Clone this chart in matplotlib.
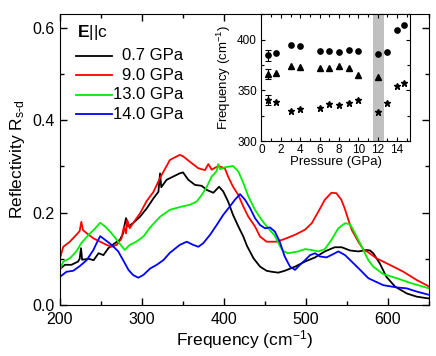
import matplotlib
matplotlib.use("Agg")
import matplotlib.pyplot as plt
from matplotlib.ticker import MultipleLocator, FormatStrFormatter

plt.rcParams['font.family'] = ['Liberation Sans', 'DejaVu Sans']
plt.rcParams['mathtext.fontset'] = 'custom'
plt.rcParams['mathtext.rm'] = 'Liberation Sans'
plt.rcParams['mathtext.bf'] = 'Liberation Sans:bold'
plt.rcParams['mathtext.it'] = 'Liberation Sans:italic'

# ---------------- main spectra ----------------
black_f = [200, 206, 214, 222, 224, 225.6, 227, 235, 241, 247, 253, 259, 267, 273, 277, 279, 280.5, 283, 289, 297.5,
           305.7, 314, 320, 322, 323.5, 330, 338, 346, 350, 356.5, 364.6, 372.8, 379, 387, 394, 399, 405, 411, 417.5,
           423.6, 428, 436, 444, 452, 458, 466, 474, 486.6, 498.8, 511, 523, 535, 543.5, 553.7, 563.8, 574, 578, 582,
           590, 598, 608.5, 622.8, 635, 650]
black_r = [0.078, 0.087, 0.087, 0.094, 0.100, 0.123, 0.098, 0.100, 0.097, 0.112, 0.108, 0.123, 0.134, 0.141, 0.155, 0.175,
           0.188, 0.170, 0.177, 0.191, 0.209, 0.231, 0.245, 0.285, 0.255, 0.271, 0.278, 0.285, 0.287, 0.271, 0.260, 0.258,
           0.249, 0.243, 0.256, 0.246, 0.224, 0.195, 0.170, 0.148, 0.128, 0.101, 0.083, 0.074, 0.072, 0.070, 0.074, 0.083,
           0.094, 0.103, 0.116, 0.125, 0.125, 0.118, 0.116, 0.119, 0.118, 0.112, 0.090, 0.061, 0.040, 0.025, 0.018, 0.014]

red_f = [200, 204, 212, 220, 224, 226, 228, 235, 241, 249, 257, 263, 269, 275, 278, 280.5, 282, 285, 289, 297.5, 305.7,
         314, 322, 334, 346, 350, 358.5, 368.7, 376.8, 380.9, 385, 393, 401, 405, 411, 417.5, 423.6, 429.7, 437.8, 444,
         452, 464, 474, 486.6, 498.8, 507, 515, 523, 531, 537, 543, 547, 551, 555.7, 563.8, 570, 576, 586, 602, 618.7,
         635, 650]
red_r = [0.101, 0.126, 0.137, 0.152, 0.160, 0.180, 0.162, 0.152, 0.144, 0.137, 0.130, 0.126, 0.130, 0.144, 0.170, 0.155,
         0.184, 0.166, 0.177, 0.198, 0.225, 0.245, 0.275, 0.314, 0.325, 0.322, 0.310, 0.296, 0.292, 0.305, 0.293, 0.301,
         0.296, 0.278, 0.256, 0.238, 0.213, 0.191, 0.170, 0.148, 0.137, 0.137, 0.143, 0.152, 0.163, 0.177, 0.202, 0.228,
         0.243, 0.242, 0.228, 0.210, 0.188, 0.163, 0.137, 0.120, 0.114, 0.101, 0.087, 0.072, 0.054, 0.040]

green_f = [200, 204, 212, 220, 226, 235, 243, 249, 255, 263, 271, 279, 285, 293, 301.6, 310, 322, 334, 346, 358.5, 366.7,
           372.8, 379, 385, 391, 393, 395, 401, 411, 417.5, 423.6, 429.7, 437.8, 446, 454, 462, 468, 472, 478, 490.6,
           498.8, 507, 515, 523, 531, 539.4, 547.6, 553.7, 559.8, 568, 576, 582, 594, 610.6, 626.8, 650]
green_r = [0.076, 0.094, 0.101, 0.116, 0.134, 0.152, 0.166, 0.178, 0.170, 0.155, 0.137, 0.119, 0.130, 0.137, 0.148, 0.168,
           0.191, 0.206, 0.212, 0.217, 0.224, 0.238, 0.256, 0.278, 0.290, 0.305, 0.294, 0.298, 0.301, 0.289, 0.264, 0.235,
           0.206, 0.184, 0.166, 0.150, 0.128, 0.117, 0.112, 0.116, 0.121, 0.119, 0.116, 0.121, 0.141, 0.166, 0.177, 0.175,
           0.155, 0.126, 0.097, 0.083, 0.067, 0.058, 0.048, 0.036]

blue_f = [200, 208, 216, 224, 232.5, 240.7, 244.7, 249, 255, 263, 271, 277, 283.5, 289, 295.5, 301.6, 310, 318, 326, 334,
          346, 354.5, 362.6, 368.7, 374.8, 383, 391, 399, 407, 413.4, 419.5, 425.6, 431.7, 437.8, 444, 450, 456, 462, 468,
          474, 480.5, 486.6, 492.7, 498.8, 505, 511, 517, 525, 533, 539.4, 547.6, 555.7, 566, 576, 594, 610.6, 622.8,
          635, 650]
blue_r = [0.061, 0.072, 0.074, 0.084, 0.097, 0.119, 0.134, 0.149, 0.141, 0.130, 0.116, 0.097, 0.076, 0.065, 0.059, 0.065,
          0.079, 0.087, 0.097, 0.113, 0.130, 0.137, 0.130, 0.126, 0.134, 0.152, 0.173, 0.195, 0.213, 0.228, 0.240, 0.228,
          0.210, 0.188, 0.173, 0.166, 0.168, 0.159, 0.137, 0.105, 0.083, 0.076, 0.087, 0.097, 0.108, 0.112, 0.105, 0.103,
          0.110, 0.116, 0.108, 0.094, 0.076, 0.058, 0.043, 0.038, 0.036, 0.029, 0.022]

series_labels = ['0.7 GPa', '9.0 GPa', '13.0 GPa', '14.0 GPa']
series_colors = ['#000000', '#ff0000', '#00ee00', '#0000ff']

# ---------------- inset data ----------------
p_circle = [0.7, 1.5, 3.0, 4.0, 6.0, 7.0, 8.0, 9.0, 10.0, 12.0, 13.0, 14.0, 14.7]
f_circle = [384.5, 386.8, 394.7, 394.0, 389.4, 389.4, 387.8, 390.0, 389.4, 385.8, 388.4, 409.9, 414.5]
p_tri = [0.7, 1.5, 3.0, 4.0, 6.0, 7.0, 8.0, 9.0, 10.0, 12.0]
f_tri = [366.3, 367.6, 374.0, 373.0, 372.6, 371.9, 374.3, 372.6, 365.3, 363.7]
p_star = [0.7, 1.5, 3.0, 4.0, 6.0, 7.0, 8.0, 9.0, 10.0, 12.0, 13.0, 14.0, 14.7]
f_star = [340.3, 338.3, 329.7, 332.0, 333.0, 336.3, 336.0, 337.6, 340.6, 329.0, 337.6, 354.5, 357.7]
err_first = [5.0, 5.0, 5.0]
shade_range = [11.55, 12.7]

fig = plt.figure(figsize=(4.36, 3.56), dpi=100)
ax = fig.add_axes([0.1376, 0.1433, 0.8464, 0.8174])

for f, r, c in zip([black_f, red_f, green_f, blue_f], [black_r, red_r, green_r, blue_r], series_colors):
    ax.plot(f, r, color=c, lw=1.3)

ax.set_xlim(200, 650)
ax.set_ylim(0, 0.63)
ax.xaxis.set_major_locator(MultipleLocator(100))
ax.xaxis.set_minor_locator(MultipleLocator(50))
ax.yaxis.set_major_locator(MultipleLocator(0.2))
ax.yaxis.set_minor_locator(MultipleLocator(0.1))
ax.yaxis.set_major_formatter(FormatStrFormatter('%.1f'))
ax.tick_params(which='both', direction='in', top=True, right=True, labelsize=11.5)
ax.tick_params(which='major', length=5, width=1)
ax.tick_params(which='minor', length=3, width=1)
ax.tick_params(axis='x', pad=5)
ax.tick_params(axis='y', pad=4)
ax.set_xlabel('Frequency (cm$^{-1}$)', fontsize=12.5, labelpad=1)
ax.set_ylabel('Reflectivity R$_{\\text{s-d}}$', fontsize=12.5, labelpad=4)

# manual legend
ax.text(0.047, 0.935, '$\\mathbf{E}$||c', transform=ax.transAxes, fontsize=12.5, va='center', ha='left')
rows = [0.856, 0.790, 0.722, 0.656]
for lab, c, yy in zip(series_labels, series_colors, rows):
    ax.plot([0.0434, 0.141], [yy, yy], transform=ax.transAxes, color=c, lw=1.3)
    ax.text(0.333, yy, lab, transform=ax.transAxes, fontsize=12, va='center', ha='right')

# inset
ins = fig.add_axes([0.5975, 0.6039, 0.3440, 0.3554])
ins.axvspan(shade_range[0], shade_range[1], color='#c0c0c0', lw=0)
ins.plot(p_circle, f_circle, 'o', color='black', ms=3.8, ls='none')
ins.plot(p_tri, f_tri, '^', color='black', ms=4, ls='none')
ins.plot(p_star, f_star, '*', color='black', ms=4.5, ls='none')
ins.errorbar([p_circle[0], p_tri[0], p_star[0]], [f_circle[0], f_tri[0], f_star[0]], yerr=err_first,
             fmt='none', ecolor='black', elinewidth=0.8, capsize=2, capthick=0.8)
ins.set_xlim(-0.1, 15.4)
ins.set_ylim(300, 425)
ins.xaxis.set_major_locator(MultipleLocator(2))
ins.xaxis.set_minor_locator(MultipleLocator(1))
ins.yaxis.set_major_locator(MultipleLocator(50))
ins.yaxis.set_minor_locator(MultipleLocator(25))
ins.tick_params(which='both', direction='in', top=True, right=True, labelsize=8.5, pad=2.5)
ins.tick_params(which='major', length=3, width=0.8)
ins.tick_params(which='minor', length=2, width=0.8)
ins.set_xlabel('Pressure (GPa)', fontsize=9.5, labelpad=0)
ins.set_ylabel('Frequency (cm$^{-1}$)', fontsize=9.5, labelpad=3)

fig.savefig('out.png', dpi=100)
